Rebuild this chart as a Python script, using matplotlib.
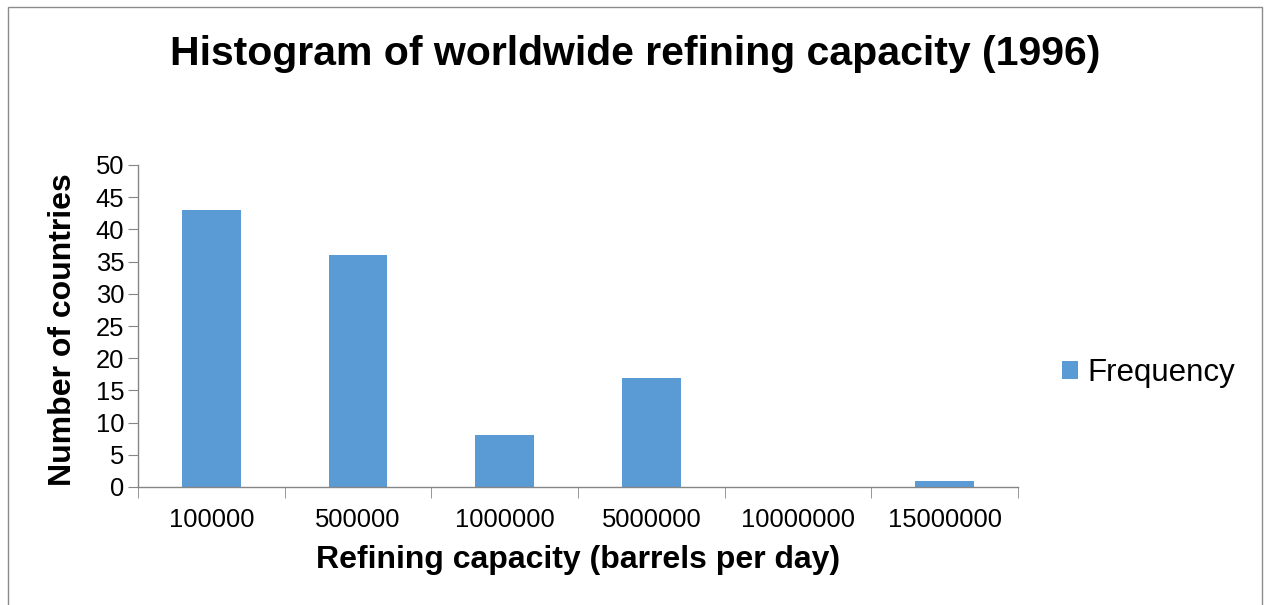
import matplotlib.pyplot as plt
from matplotlib.patches import Rectangle

plt.rcParams['font.family'] = ['Liberation Sans', 'DejaVu Sans']

bins = ['100000', '500000', '1000000', '5000000', '10000000', '15000000']
counts = [43, 36, 8, 17, 0, 1]

W, H = 1265, 605
fig = plt.figure(figsize=(W / 100, H / 100), dpi=100)

# plot area in pixels: x 138..1018, y 165..487
ax = fig.add_axes([138 / W, 1 - 487 / H, 880 / W, 322 / H])

x = list(range(len(bins)))
bars = ax.bar(x, counts, width=0.4, color='#5B9BD5', label='Frequency')

ax.set_xlim(-0.5, len(bins) - 0.5)
ax.set_ylim(0, 50)
ax.set_yticks(range(0, 51, 5))
ax.set_xticks(x)
ax.set_xticklabels(bins, fontsize=18.4)
ax.tick_params(axis='y', labelsize=18.4, length=7, color='#868686', pad=3)
ax.tick_params(axis='x', length=0, pad=15)
# category boundary ticks
ax.set_xticks([i - 0.5 for i in range(len(bins) + 1)], minor=True)
ax.tick_params(axis='x', which='minor', length=8, color='#868686')

for s in ['top', 'right']:
    ax.spines[s].set_visible(False)
for s in ['left', 'bottom']:
    ax.spines[s].set_color('#868686')
    ax.spines[s].set_linewidth(1)

ax.set_xlabel('Refining capacity (barrels per day)', fontsize=23, fontweight='bold')
ax.xaxis.label.set_va('baseline')
ax.xaxis.set_label_coords(0.5, -(568 - 487) / 322)
ax.set_ylabel('Number of countries', fontsize=23, fontweight='bold')
ax.yaxis.label.set_va('baseline')
ax.yaxis.set_label_coords((71 - 138) / 880, (487 - 330) / 322)

fig.text(635 / W, 1 - 65 / H, 'Histogram of worldwide refining capacity (1996)',
         fontsize=29.5, fontweight='bold', ha='center', va='baseline')

fig.legend(handles=[bars], loc='center left', bbox_to_anchor=(1062 / W, 1 - 373 / H),
           frameon=False, fontsize=22.5, handlelength=0.5, handleheight=0.55,
           handletextpad=0.32, borderaxespad=0, borderpad=0)

# outer chart frame
fig.patches.append(Rectangle((8 / W, -0.01), 1254 / W, 1 - 7 / H + 0.01,
                             transform=fig.transFigure, fill=False,
                             edgecolor='#8c8c8c', linewidth=1))

fig.savefig('out.png', dpi=100)
